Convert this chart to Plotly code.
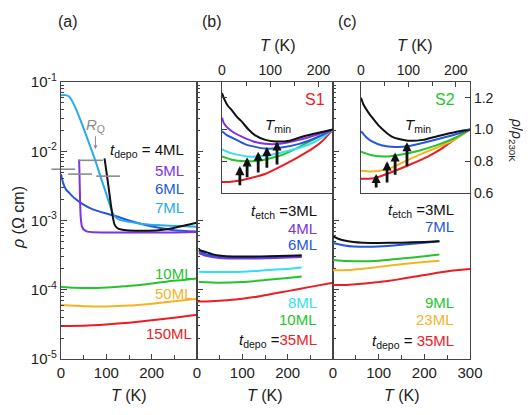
import plotly.graph_objects as go

# ---------------- data ----------------
# Panel (a): rho (Ohm cm) vs T (K), t_depo series
T_a_4ML = [96, 100, 105, 110, 114, 118, 124, 133, 150, 180, 210, 240, 270, 300]
rho_a_4ML = [7.9e-3, 5.2e-3, 3.0e-3, 1.7e-3, 1.15e-3, 8.8e-4, 7.8e-4, 7.4e-4, 7.2e-4, 7.1e-4, 7.2e-4, 7.6e-4, 8.4e-4, 9.3e-4]
T_a_5ML = [40, 41, 42, 43, 44, 46, 50, 58, 70, 100, 150, 200, 250, 300]
rho_a_5ML = [7.6e-3, 4.0e-3, 2.0e-3, 1.26e-3, 1.02e-3, 8.3e-4, 7.4e-4, 6.9e-4, 6.75e-4, 6.7e-4, 6.7e-4, 6.7e-4, 6.7e-4, 6.8e-4]
T_a_6ML = [0, 3, 7, 12, 18, 30, 47, 70, 100, 122, 150, 196, 250, 300]
rho_a_6ML = [4.68e-3, 3.80e-3, 3.16e-3, 2.75e-3, 2.51e-3, 2.09e-3, 1.74e-3, 1.45e-3, 1.26e-3, 1.15e-3, 1.0e-3, 8.32e-4, 7.24e-4, 6.92e-4]
T_a_7ML = [0, 10, 18, 25, 35, 47, 60, 75, 90, 100, 108, 113, 120, 130, 151, 180, 220, 260, 300]
rho_a_7ML = [6.46e-2, 6.46e-2, 6.17e-2, 5.25e-2, 3.80e-2, 2.40e-2, 1.41e-2, 7.59e-3, 3.80e-3, 2.40e-3, 1.66e-3,
             1.32e-3, 1.12e-3, 1.02e-3, 9.55e-4, 8.91e-4, 8.51e-4, 8.32e-4, 8.13e-4]
T_a_10ML = [0, 30, 70, 120, 160, 200, 235, 270, 300]
rho_a_10ML = [1.10e-4, 1.07e-4, 1.06e-4, 1.10e-4, 1.15e-4, 1.23e-4, 1.32e-4, 1.38e-4, 1.45e-4]
T_a_50ML = [0, 50, 100, 150, 200, 250, 300]
rho_a_50ML = [6.0e-5, 5.8e-5, 5.75e-5, 5.9e-5, 6.3e-5, 6.8e-5, 7.4e-5]
T_a_150ML = [0, 50, 100, 150, 200, 250, 300]
rho_a_150ML = [3.0e-5, 3.02e-5, 3.15e-5, 3.35e-5, 3.62e-5, 3.95e-5, 4.35e-5]
# R_Q marks
rq_T = [5, 42, 66, 104]
rq_rho = [5.5e-3, 4.68e-3, 7.4e-3, 4.37e-3]

# Panel (b): S1, t_etch series
T_b_3ML = [4, 12, 22, 35, 53, 80, 120, 160, 200, 231]
rho_b_3ML = [3.80e-4, 3.63e-4, 3.47e-4, 3.24e-4, 3.09e-4, 3.02e-4, 3.02e-4, 3.05e-4, 3.09e-4, 3.13e-4]
T_b_4ML = [4, 20, 50, 100, 150, 200, 231]
rho_b_4ML = [3.39e-4, 3.09e-4, 2.88e-4, 2.82e-4, 2.85e-4, 2.92e-4, 2.98e-4]
T_b_6ML = [4, 20, 50, 100, 150, 200, 231]
rho_b_6ML = [3.63e-4, 3.24e-4, 3.02e-4, 2.95e-4, 2.98e-4, 3.05e-4, 3.13e-4]
T_b_8ML = [4, 50, 100, 150, 200, 231]
rho_b_8ML = [1.82e-4, 1.80e-4, 1.82e-4, 1.91e-4, 2.00e-4, 2.09e-4]
T_b_10ML = [4, 50, 100, 150, 200, 231]
rho_b_10ML = [1.29e-4, 1.26e-4, 1.29e-4, 1.38e-4, 1.48e-4, 1.55e-4]
T_b_35ML = [0, 30, 67, 100, 142, 170, 200, 250, 300]
rho_b_35ML = [6.76e-5, 6.84e-5, 7.08e-5, 7.41e-5, 8.13e-5, 8.81e-5, 9.55e-5, 1.10e-4, 1.26e-4]

# Panel (c): S2
T_c_3ML = [0, 10, 25, 45, 65, 100, 150, 200, 233]
rho_c_3ML = [5.89e-4, 5.50e-4, 5.13e-4, 4.90e-4, 4.79e-4, 4.73e-4, 4.79e-4, 4.90e-4, 5.01e-4]
T_c_7ML = [0, 10, 25, 45, 72, 100, 150, 200, 233]
rho_c_7ML = [4.79e-4, 4.57e-4, 4.37e-4, 4.22e-4, 4.17e-4, 4.22e-4, 4.47e-4, 4.79e-4, 5.01e-4]
T_c_9ML = [0, 30, 60, 100, 150, 200, 233]
rho_c_9ML = [2.69e-4, 2.60e-4, 2.57e-4, 2.63e-4, 2.82e-4, 3.05e-4, 3.24e-4]
T_c_23ML = [0, 30, 60, 100, 150, 200, 233]
rho_c_23ML = [1.91e-4, 1.93e-4, 2.00e-4, 2.14e-4, 2.34e-4, 2.51e-4, 2.63e-4]
T_c_35ML = [0, 30, 70, 100, 140, 180, 233, 270, 300]
rho_c_35ML = [1.17e-4, 1.17e-4, 1.23e-4, 1.29e-4, 1.40e-4, 1.55e-4, 1.78e-4, 1.91e-4, 2.00e-4]

# Inset (b): rho / rho_230K
Ti_b_3ML = [0, 5, 12, 21, 31, 41, 55, 68, 90, 110, 140, 166, 200, 230]
r_b_3ML = [1.23, 1.19, 1.15, 1.12, 1.08, 1.05, 1.0, 0.965, 0.935, 0.925, 0.93, 0.955, 0.98, 1.0]
Ti_b_4ML = [0, 4, 12, 25, 41, 65, 89, 120, 160, 200, 230]
r_b_4ML = [1.075, 1.04, 1.01, 0.98, 0.955, 0.925, 0.91, 0.91, 0.935, 0.97, 1.0]
Ti_b_6ML = [0, 10, 27, 50, 89, 120, 160, 200, 230]
r_b_6ML = [0.99, 0.965, 0.94, 0.905, 0.88, 0.885, 0.91, 0.955, 1.0]
Ti_b_8ML = [0, 20, 54, 90, 130, 170, 200, 230]
r_b_8ML = [0.875, 0.85, 0.83, 0.835, 0.86, 0.895, 0.935, 1.0]
Ti_b_10ML = [0, 20, 48, 80, 124, 150, 178, 205, 230]
r_b_10ML = [0.83, 0.81, 0.80, 0.805, 0.84, 0.875, 0.92, 0.96, 1.0]
Ti_b_35ML = [0, 15, 30, 60, 89, 120, 157, 185, 207, 230]
r_b_35ML = [0.67, 0.67, 0.675, 0.695, 0.72, 0.765, 0.825, 0.875, 0.925, 1.0]
tmin_b_T = [37, 52, 75, 93, 114]
tmin_b_tip = [0.77, 0.825, 0.86, 0.89, 0.925]
tmin_b_tail = [0.64, 0.69, 0.72, 0.75, 0.77]

# Inset (c)
Ti_c_3ML = [0, 5, 15, 25, 36, 50, 65, 80, 99, 130, 163, 200, 230]
r_c_3ML = [1.2, 1.16, 1.11, 1.07, 1.03, 0.99, 0.956, 0.94, 0.93, 0.935, 0.96, 0.985, 1.0]
Ti_c_7ML = [0, 10, 23, 45, 72, 100, 130, 163, 200, 230]
r_c_7ML = [0.99, 0.955, 0.925, 0.9, 0.89, 0.895, 0.915, 0.94, 0.97, 1.0]
Ti_c_9ML = [0, 20, 51, 80, 120, 163, 200, 230]
r_c_9ML = [0.86, 0.84, 0.83, 0.84, 0.865, 0.905, 0.95, 1.0]
Ti_c_23ML = [0, 20, 40, 65, 93, 130, 163, 200, 230]
r_c_23ML = [0.74, 0.735, 0.74, 0.76, 0.80, 0.85, 0.89, 0.94, 1.0]
Ti_c_35ML = [0, 15, 30, 50, 72, 100, 141, 170, 198, 230]
r_c_35ML = [0.69, 0.69, 0.695, 0.715, 0.74, 0.775, 0.83, 0.88, 0.94, 1.0]
tmin_c_T = [32, 55, 72, 97]
tmin_c_tip = [0.72, 0.80, 0.856, 0.92]
tmin_c_tail = [0.625, 0.656, 0.706, 0.76]

# tick labels
rho_tickvals = [1e-5, 1e-4, 1e-3, 1e-2, 1e-1]
rho_ticktext = ["10<sup>-5</sup>", "10<sup>-4</sup>", "10<sup>-3</sup>", "10<sup>-2</sup>", "10<sup>-1</sup>"]
ratio_tickvals = [0.6, 0.8, 1.0, 1.2]
ratio_ticktext = ["0.6", "0.8", "1.0", "1.2"]

# ---------------- style ----------------
BLACK = "#111111"
PURPLE = "#7d33e0"
BLUE = "#2457e0"
LBLUE = "#29a9e6"
CYAN = "#33dff2"
GREEN = "#25c42b"
ORANGE = "#f7b31f"
RED = "#ec1c24"
GRAY = "#8c8c8c"
FONT = "Liberation Sans, Arial, sans-serif"
OFF = 8                      # page body margin of the html
W, H = 531 - OFF, 415 - OFF  # figure size so that the page fits the window

def px(x):
    return (x - OFF) / W

def py(y):
    return 1 - (y - OFF) / H

fig = go.Figure()

def add(x, y, color, xa, ya, width=2.0):
    fig.add_trace(go.Scatter(x=x, y=y, mode="lines",
                             line=dict(color=color, width=width, shape="spline", smoothing=0.5),
                             xaxis=xa, yaxis=ya, showlegend=False, hoverinfo="skip"))

# panel (a)
add(T_a_150ML, rho_a_150ML, RED, "x", "y")
add(T_a_50ML, rho_a_50ML, ORANGE, "x", "y")
add(T_a_10ML, rho_a_10ML, GREEN, "x", "y")
add(T_a_6ML, rho_a_6ML, BLUE, "x", "y")
add(T_a_7ML, rho_a_7ML, LBLUE, "x", "y")
add(T_a_5ML, rho_a_5ML, PURPLE, "x", "y")
add(T_a_4ML, rho_a_4ML, BLACK, "x", "y")
fig.add_trace(go.Scatter(x=rq_T, y=rq_rho, mode="markers", xaxis="x", yaxis="y",
                         marker=dict(symbol="line-ew", size=17, line=dict(color=GRAY, width=1.6)),
                         cliponaxis=False, showlegend=False, hoverinfo="skip"))

# panel (b)
add(T_b_35ML, rho_b_35ML, RED, "x2", "y2")
add(T_b_10ML, rho_b_10ML, GREEN, "x2", "y2")
add(T_b_8ML, rho_b_8ML, CYAN, "x2", "y2")
add(T_b_4ML, rho_b_4ML, PURPLE, "x2", "y2")
add(T_b_6ML, rho_b_6ML, BLUE, "x2", "y2")
add(T_b_3ML, rho_b_3ML, BLACK, "x2", "y2")

# panel (c)
add(T_c_35ML, rho_c_35ML, RED, "x3", "y3")
add(T_c_23ML, rho_c_23ML, ORANGE, "x3", "y3")
add(T_c_9ML, rho_c_9ML, GREEN, "x3", "y3")
add(T_c_7ML, rho_c_7ML, BLUE, "x3", "y3")
add(T_c_3ML, rho_c_3ML, BLACK, "x3", "y3")

# inset (b)
add(Ti_b_35ML, r_b_35ML, RED, "x4", "y4")
add(Ti_b_10ML, r_b_10ML, GREEN, "x4", "y4")
add(Ti_b_8ML, r_b_8ML, CYAN, "x4", "y4")
add(Ti_b_6ML, r_b_6ML, BLUE, "x4", "y4")
add(Ti_b_4ML, r_b_4ML, PURPLE, "x4", "y4")
add(Ti_b_3ML, r_b_3ML, BLACK, "x4", "y4")

# inset (c)
add(Ti_c_35ML, r_c_35ML, RED, "x5", "y5")
add(Ti_c_23ML, r_c_23ML, ORANGE, "x5", "y5")
add(Ti_c_9ML, r_c_9ML, GREEN, "x5", "y5")
add(Ti_c_7ML, r_c_7ML, BLUE, "x5", "y5")
add(Ti_c_3ML, r_c_3ML, BLACK, "x5", "y5")

LINE = "#444444"
tickfont = dict(family=FONT, size=15, color="#222222")
log_minor_vals = [m * 10.0 ** e for e in range(-5, -1) for m in range(2, 10)]

def main_x(dom, last_label, anchor):
    return dict(domain=dom, range=[0, 300], anchor=anchor, showline=True, mirror=True,
                linecolor=LINE, linewidth=1.3, ticks="inside", ticklen=5, tickcolor=LINE,
                tickmode="array", tickvals=[0, 100, 200, 300],
                ticktext=["0", "100", "200", last_label],
                minor=dict(tickmode="linear", tick0=0, dtick=50, ticks="inside", ticklen=4, tickcolor=LINE),
                showgrid=False, zeroline=False, tickfont=tickfont, automargin=False)

def main_y(anchor, labels):
    return dict(domain=[py(359), py(82)], type="log", range=[-5, -1], anchor=anchor,
                showline=True, mirror=True, linecolor=LINE, linewidth=1.3,
                ticks="inside", ticklen=6, tickcolor=LINE,
                tickmode="array", tickvals=rho_tickvals, ticktext=rho_ticktext,
                minor=dict(tickmode="array", tickvals=log_minor_vals, ticks="inside", ticklen=3, tickcolor=LINE),
                showticklabels=labels, showgrid=False, zeroline=False, tickfont=tickfont,
                automargin=False)

inset_tickfont = dict(family=FONT, size=14, color="#222222")

def inset_x(dom, anchor):
    return dict(domain=dom, range=[0, 230], anchor=anchor, side="top", showline=True, mirror=True,
                linecolor=LINE, linewidth=1.3, ticks="inside", ticklen=5, tickcolor=LINE,
                tickmode="array", tickvals=[0, 100, 200],
                minor=dict(tickmode="linear", tick0=0, dtick=50, ticks="inside", ticklen=4, tickcolor=LINE),
                showgrid=False, zeroline=False, tickfont=inset_tickfont, automargin=False)

def inset_y(anchor, side, labels):
    return dict(domain=[py(193), py(82)], range=[0.6, 1.3], anchor=anchor, side=side,
                showline=True, mirror=True, linecolor=LINE, linewidth=1.3,
                ticks="inside", ticklen=5, tickcolor=LINE, tickmode="array",
                tickvals=ratio_tickvals, ticktext=ratio_ticktext,
                showticklabels=labels, showgrid=False, zeroline=False, tickfont=inset_tickfont,
                automargin=False)

fig.update_layout(
    width=W, height=H, autosize=False,
    margin=dict(l=0, r=0, t=0, b=0, pad=0, autoexpand=False),
    paper_bgcolor="white", plot_bgcolor="rgba(0,0,0,0)",
    font=dict(family=FONT, size=15, color="#222222"),
    showlegend=False,
    xaxis=main_x([px(61), px(197)], "", "y"),
    xaxis2=main_x([px(197), px(333)], "", "y2"),
    xaxis3=main_x([px(333), px(470)], "300", "y3"),
    yaxis=main_y("x", True),
    yaxis2=main_y("x2", False),
    yaxis3=main_y("x3", False),
    xaxis4=inset_x([px(222), px(333)], "y4"),
    yaxis4=inset_y("x4", "left", False),
    xaxis5=inset_x([px(361), px(470)], "y5"),
    yaxis5=inset_y("x5", "right", True),
)

ann = []

def txt(x, y, text, color="#222222", size=15, xanchor="center", angle=0):
    ann.append(dict(x=px(x), y=py(y), xref="paper", yref="paper", text=text, showarrow=False,
                    xanchor=xanchor, yanchor="middle", textangle=angle,
                    font=dict(family=FONT, size=size, color=color)))

# panel labels
txt(68, 22, "(a)", size=16)
txt(212, 22, "(b)", size=16)
txt(347, 22, "(c)", size=16)
# axis titles
txt(18, 218, "<i>ρ</i> (Ω cm)", size=16, angle=-90)
txt(129, 395, "<i>T</i> (K)", size=16)
txt(265, 395, "<i>T</i> (K)", size=16)
txt(402, 395, "<i>T</i> (K)", size=16)
txt(278, 45, "<i>T</i> (K)", size=16)
txt(415, 45, "<i>T</i> (K)", size=16)
txt(516, 140, "<i>ρ</i>/<i>ρ</i><sub>230K</sub>", size=14, angle=90)

# panel (a) labels
txt(186, 150, "<i>t</i><sub>depo</sub> = 4ML", color=BLACK, xanchor="right")
txt(186, 170, "5ML", color=PURPLE, xanchor="right")
txt(186, 188, "6ML", color=BLUE, xanchor="right")
txt(186, 207, "7ML", color=LBLUE, xanchor="right")
txt(195, 273, "10ML", color=GREEN, xanchor="right")
txt(195, 293, "50ML", color=ORANGE, xanchor="right")
txt(194, 333, "150ML", color=RED, xanchor="right")

# panel (b) labels
txt(319, 211, "<i>t</i><sub>etch</sub> =3ML", color=BLACK, xanchor="right")
txt(319, 228, "4ML", color=PURPLE, xanchor="right")
txt(319, 244, "6ML", color=BLUE, xanchor="right")
txt(319, 302, "8ML", color=CYAN, xanchor="right")
txt(319, 319, "10ML", color=GREEN, xanchor="right")
txt(319, 340, "<i>t</i><sub>depo</sub> =<span style='color:%s'>35ML</span>" % RED, color=BLACK, xanchor="right")

# panel (c) labels
txt(456, 210, "<i>t</i><sub>etch</sub> =3ML", color=BLACK, xanchor="right")
txt(456, 227, "7ML", color=BLUE, xanchor="right")
txt(456, 302, "9ML", color=GREEN, xanchor="right")
txt(456, 319, "23ML", color=ORANGE, xanchor="right")
txt(456, 341, "<i>t</i><sub>depo</sub> = <span style='color:%s'>35ML</span>" % RED, color=BLACK, xanchor="right")

# inset labels
txt(315, 100, "S1", color=RED, size=16)
txt(445, 100, "S2", color=GREEN, size=16)
txt(278, 125, "<i>T</i><sub>min</sub>", color=BLACK, size=15)
txt(418, 125, "<i>T</i><sub>min</sub>", color=BLACK, size=15)

# R_Q label with arrow (panel a, data coords: x in K, y in log10)
ann.append(dict(x=76, y=-1.97, xref="x", yref="y", text="<i>R</i><sub>Q</sub>", showarrow=True,
                ax=0, ay=-24, arrowhead=2, arrowsize=0.8, arrowwidth=1, arrowcolor=GRAY,
                font=dict(family=FONT, size=15, color=GRAY)))

# T_min arrows
for T, tip, tail in zip(tmin_b_T, tmin_b_tip, tmin_b_tail):
    ann.append(dict(x=T, y=tip, ax=T, ay=tail, xref="x4", yref="y4", axref="x4", ayref="y4",
                    text="", showarrow=True, arrowhead=2, arrowsize=0.65, arrowwidth=2.8, arrowcolor=BLACK))
for T, tip, tail in zip(tmin_c_T, tmin_c_tip, tmin_c_tail):
    ann.append(dict(x=T, y=tip, ax=T, ay=tail, xref="x5", yref="y5", axref="x5", ayref="y5",
                    text="", showarrow=True, arrowhead=2, arrowsize=0.65, arrowwidth=2.8, arrowcolor=BLACK))

fig.update_layout(annotations=ann)
fig.write_html("out.html")
